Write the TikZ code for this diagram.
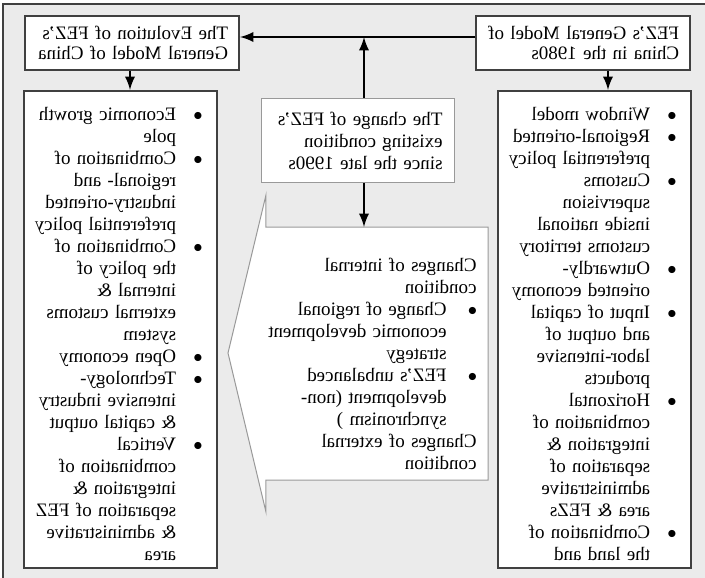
\documentclass[tikz,border=0pt]{standalone}
\usepackage{fontspec}
\setmainfont{Liberation Serif}
\usepackage{enumitem}
\usetikzlibrary{arrows}
\definecolor{panel}{gray}{0.92}
\definecolor{edge}{gray}{0.25}
\definecolor{light}{gray}{0.6}
\newcommand{\tx}{\fontsize{9.5pt}{11pt}\selectfont}
\newcommand{\hx}{\fontsize{9.5pt}{10pt}\selectfont}
\setlist[itemize]{nosep,label=$\bullet$,leftmargin=16.5pt,labelsep=8.6pt}

\begin{document}
\begin{tikzpicture}[x=0.5pt,y=-0.5pt,xscale=-1,
    every node/.append style={transform shape},
    head/.style={draw=edge,line width=0.8pt,fill=white,anchor=north west,
      text width=96pt,inner xsep=5.5pt,inner ysep=0pt,minimum height=27pt,
      align=left,font=\hx},
    listbox/.style={draw=edge,line width=0.8pt,fill=white,anchor=north west,
      text width=88.5pt,inner xsep=4pt,inner ysep=0pt,minimum height=238.5pt,
      align=left,font=\tx},
    conn/.style={line width=1.3pt,-latex}]
  \useasboundingbox (0,0) rectangle (705,577);
  \draw[edge,fill=panel,line width=0.6pt] (-20,4) rectangle (702,600);

  % heads of the two columns
  \node[head] (m80) at (14,15) {FEZ’s General Model of\\China in the 1980s};
  \node[head] (evol) at (465,15) {The Evolution of FEZ’s\\General Model of China};

  % the two lists
  \node[listbox] (m80list) at (13,90) {%
    \begin{itemize}
      \item Window model
      \item Regional-oriented\\preferential policy
      \item Customs\\supervision\\inside national\\customs territory
      \item Outwardly-\\oriented economy
      \item Input of capital\\and output of\\labor-intensive\\products
      \item Horizontal\\combination of\\integration \&\\separation of\\administrative\\area \& FEZs
      \item Combination of\\the land and
    \end{itemize}};
  \node[listbox] (evollist) at (487,90) {%
    \begin{itemize}
      \item Economic growth\\pole
      \item Combination of\\regional- and\\industry-oriented\\preferential policy
      \item Combination of\\the policy of\\internal \&\\external customs\\system
      \item Open economy
      \item Technology-\\intensive industry\\\& capital output
      \item Vertical\\combination of\\integration \&\\separation of FEZ\\\& administrative\\area
    \end{itemize}};

  % middle
  \node[draw=light,line width=0.5pt,fill=white,anchor=north west,text width=84.5pt,
    inner xsep=6pt,inner ysep=0pt,minimum height=42pt,align=left,font=\tx]
    (change) at (250,98) {The change of FEZ’s\\existing condition\\since the late 1990s};

  \draw[light,line width=0.5pt,fill=white] (439,227) -- (217,227) -- (217,480)
    -- (439,480) -- (439,512) -- (477,353) -- (439,195) -- cycle;
  \node[anchor=north west,inner sep=0pt,text width=110pt,align=left,font=\tx]
    (cond) at (228,258) {%
    Changes of internal\\condition
    \begin{itemize}[leftmargin=15pt,labelsep=10.6pt]
      \item Change of regional\\economic development\\strategy
      \item FEZ’s unbalanced\\development (non-\\synchronism )
    \end{itemize}
    Changes of external\\condition};

  % connectors
  \coordinate (bar) at (341,37);
  \coordinate (calltop) at (341,227);
  \coordinate (m80dn) at (97,0);
  \coordinate (evoldn) at (575,0);
  \draw[conn] (m80.east |- bar) -- (evol.west |- bar);
  \draw[conn] (change.north -| bar) -- (bar);
  \draw[conn] (change.south -| bar) -- (calltop);
  \draw[conn] (m80.south -| m80dn) -- (m80list.north -| m80dn);
  \draw[conn] (evol.south -| evoldn) -- (evollist.north -| evoldn);
\end{tikzpicture}
\end{document}
